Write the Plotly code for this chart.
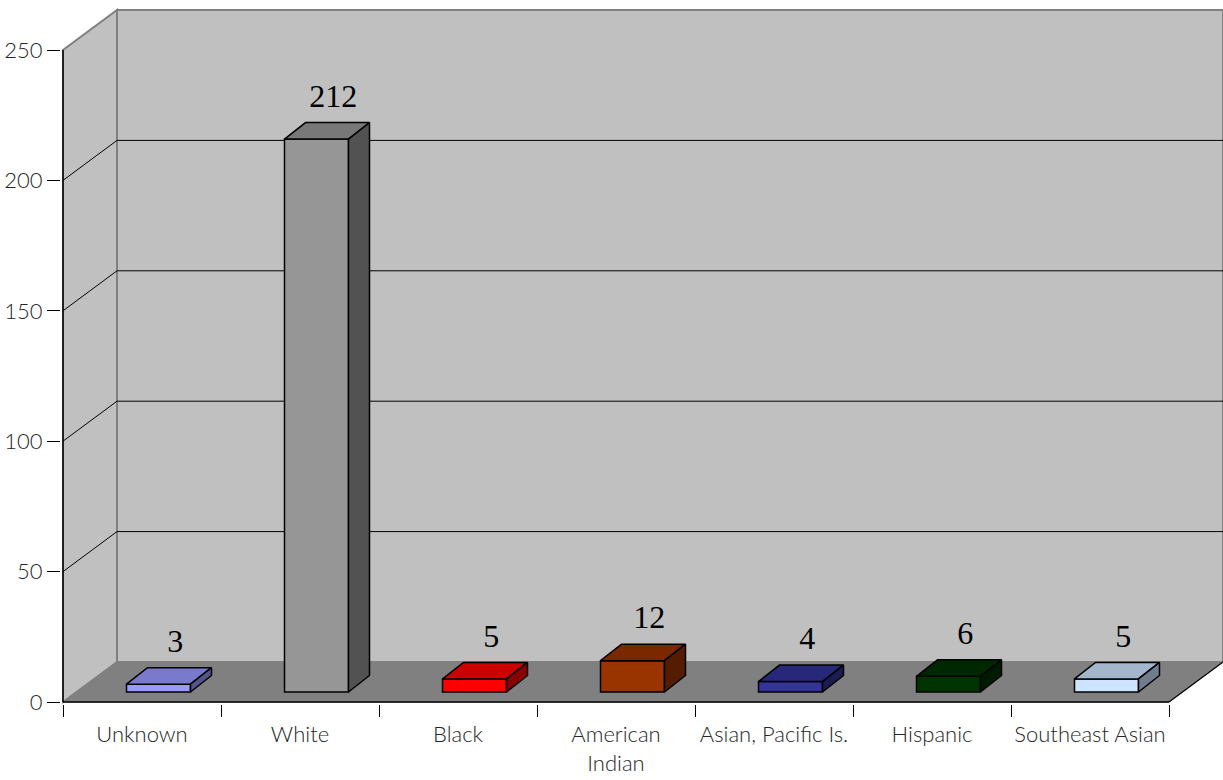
import plotly.graph_objects as go

# --- data -------------------------------------------------------------
categories = ["Unknown", "White", "Black", "American<br>Indian",
              "Asian, Pacific Is.", "Hispanic", "Southeast Asian"]
counts = [3, 212, 5, 12, 4, 6, 5]
bar_colors = ["#9999FF", "#969696", "#FF0000", "#993300",
              "#333399", "#003300", "#CCE4FF"]
y_ticks = [0, 50, 100, 150, 200, 250]

# --- geometry of the pseudo-3D box (axis units) ------------------------
PX_X = 158.0            # pixels per category
PX_Y = 2.608            # pixels per count
WALL_DX = 54 / PX_X     # depth of the box, horizontal part
WALL_DY = 40 / PX_Y     # depth of the box, vertical part
Y_TOP = 250

BAR_SHIFT = 16.5 / PX_X
BAR_W = 64 / PX_X
BAR_LIFT = 10 / PX_Y
BAR_DX = 21 / PX_X
BAR_DY = 16.5 / PX_Y

W, H = 1223, 780
M_L, M_B = 61, 76
x0 = -0.5 - (63 - M_L) / PX_X
x1 = x0 + (W - M_L) / PX_X
y0 = -(704 - 702) / PX_Y
y1 = y0 + (H - M_B) / PX_Y

n = len(categories)
xl_front, xr_front = -0.5, n - 0.5
xl_back, xr_back = xl_front + WALL_DX, xr_front + WALL_DX


def shade(hex_color, k):
    h = hex_color.lstrip("#")
    r, g, b = (int(h[i:i + 2], 16) for i in (0, 2, 4))
    return "#%02x%02x%02x" % (int(r * k), int(g * k), int(b * k))


def poly(points):
    return "M " + " L ".join(f"{x},{y}" for x, y in points) + " Z"


shapes = []
# back wall
shapes.append(dict(type="path", layer="below",
                   path=poly([(xl_back, WALL_DY), (xl_back, Y_TOP + WALL_DY),
                              (xr_back, Y_TOP + WALL_DY), (xr_back, WALL_DY)]),
                   fillcolor="#C0C0C0", line=dict(color="#808080", width=2)))
# left wall
shapes.append(dict(type="path", layer="below",
                   path=poly([(xl_front, 0), (xl_front, Y_TOP),
                              (xl_back, Y_TOP + WALL_DY), (xl_back, WALL_DY)]),
                   fillcolor="#C0C0C0", line=dict(color="#808080", width=2)))
# floor
shapes.append(dict(type="path", layer="below",
                   path=poly([(xl_front, 0), (xr_front, 0),
                              (xr_back, WALL_DY), (xl_back, WALL_DY)]),
                   fillcolor="#808080", line=dict(color="#808080", width=1)))
# gridlines on left and back walls
for v in y_ticks[1:-1]:
    shapes.append(dict(type="line", layer="below", x0=xl_front, y0=v,
                       x1=xl_back, y1=v + WALL_DY,
                       line=dict(color="#000000", width=1)))
    shapes.append(dict(type="line", layer="below", x0=xl_back, y0=v + WALL_DY,
                       x1=xr_back, y1=v + WALL_DY,
                       line=dict(color="#000000", width=1)))
# front edges of the box
shapes.append(dict(type="line", layer="below", x0=xl_front, y0=0,
                   x1=xl_front, y1=Y_TOP, line=dict(color="#000000", width=1.5)))
shapes.append(dict(type="line", layer="below", x0=xl_front, y0=0,
                   x1=xr_front, y1=0, line=dict(color="#000000", width=1.5)))
shapes.append(dict(type="line", layer="below", x0=xr_front, y0=0,
                   x1=xr_back, y1=WALL_DY, line=dict(color="#000000", width=1.2)))

fig = go.Figure()

# front faces of the columns
centers = [i + BAR_SHIFT for i in range(n)]
fig.add_trace(go.Bar(
    x=centers, y=counts, base=[BAR_LIFT] * n, width=[BAR_W] * n,
    marker=dict(color=bar_colors, line=dict(color="#000000", width=1.5)),
    hoverinfo="skip", showlegend=False))

# top and side faces of the columns
for c, v, col in zip(centers, counts, bar_colors):
    xl, xr = c - BAR_W / 2, c + BAR_W / 2
    yb, yt = BAR_LIFT, BAR_LIFT + v
    top = [(xl, yt), (xr, yt), (xr + BAR_DX, yt + BAR_DY),
           (xl + BAR_DX, yt + BAR_DY), (xl, yt)]
    side = [(xr, yb), (xr, yt), (xr + BAR_DX, yt + BAR_DY),
            (xr + BAR_DX, yb + BAR_DY), (xr, yb)]
    for pts, k in ((top, 0.8), (side, 0.55)):
        fig.add_trace(go.Scatter(
            x=[p[0] for p in pts], y=[p[1] for p in pts],
            mode="lines", fill="toself", fillcolor=shade(col, k),
            line=dict(color="#000000", width=1.5),
            hoverinfo="skip", showlegend=False))

# value labels
fig.add_trace(go.Scatter(
    x=[i + 0.21 for i in range(n)],
    y=[BAR_LIFT + v + 15.5 for v in counts],
    mode="text", text=[str(v) for v in counts],
    textposition="middle center",
    textfont=dict(family="Liberation Serif", size=32, color="#000000"),
    hoverinfo="skip", showlegend=False, cliponaxis=False))

label_font = dict(family="Lato", size=22, color="#262626", weight=300)

fig.update_layout(
    width=W, height=H,
    margin=dict(l=M_L, r=0, t=0, b=M_B, pad=0),
    paper_bgcolor="#FFFFFF", plot_bgcolor="#FFFFFF",
    shapes=shapes, barmode="overlay",
    xaxis=dict(range=[x0, x1], showgrid=False, zeroline=False, showline=False,
               tickmode="array", tickvals=list(range(n)), ticktext=categories,
               ticks="", tickfont=label_font, ticklabelstandoff=15,
               minor=dict(tickmode="linear", tick0=-0.5, dtick=1,
                          ticks="outside", ticklen=12, tickwidth=1,
                          tickcolor="#000000", showgrid=False),
               fixedrange=True),
    yaxis=dict(range=[y0, y1], showgrid=False, zeroline=False, showline=False,
               tickmode="array", tickvals=y_ticks,
               ticks="outside", ticklen=13, tickwidth=1, tickcolor="#000000",
               tickfont=label_font, fixedrange=True),
)

fig.write_html("out.html")
